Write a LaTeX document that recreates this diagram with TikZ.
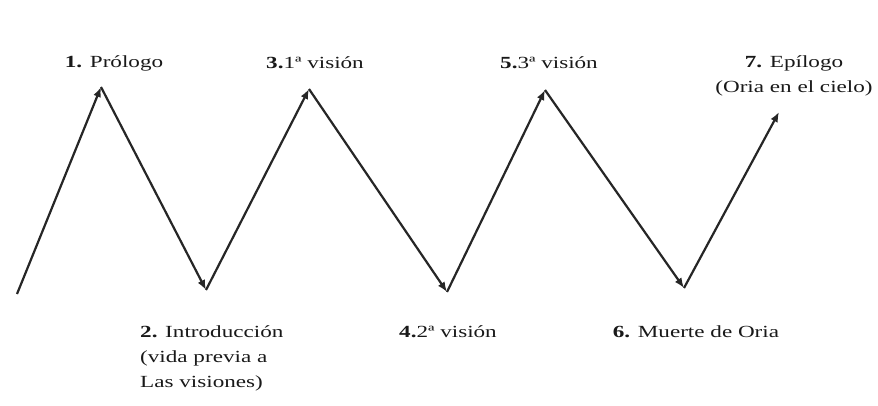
\documentclass[tikz,border=0pt]{standalone}
\usepackage{fontspec}
\setmainfont[FakeStretch=1.36]{Liberation Serif}
\usetikzlibrary{arrows.meta}
\begin{document}
\begin{tikzpicture}[x=1pt,y=-1pt,
  seg/.style={draw=black!85, line width=2.2pt, -{Latex[length=10pt,width=8pt]}},
  lbl/.style={font=\fontsize{17}{25}\selectfont, inner sep=0pt, text=black!90}]
\useasboundingbox[fill=white] (0,0) rectangle (878,406);
\coordinate (p0) at (17,294);
\coordinate (p1) at (101,87);
\coordinate (p2) at (206,290);
\coordinate (p3) at (309,89);
\coordinate (p4) at (447,292);
\coordinate (p5) at (545,90);
\coordinate (p6) at (684,288);
\coordinate (p7) at (779,112);
\draw[seg] (p0) -- (p1);
\draw[seg] (p1) -- (p2);
\draw[seg] (p2) -- (p3);
\draw[seg] (p3) -- (p4);
\draw[seg] (p4) -- (p5);
\draw[seg] (p5) -- (p6);
\draw[seg] (p6) -- (p7);
\node[lbl] (l1) at (114,63) {\textbf{1.} Prólogo};
\node[lbl] (l3) at (315,63) {\textbf{3.}1ª visión};
\node[lbl] (l5) at (549,63) {\textbf{5.}3ª visión};
\node[lbl, align=center] (l7) at (794,76) {\textbf{7.} Epílogo\\(Oria en el cielo)};
\node[lbl, align=left, anchor=west] (l2) at (140,358) {\textbf{2.} Introducción\\(vida previa a\\Las visiones)};
\node[lbl] (l4) at (448,332) {\textbf{4.}2ª visión};
\node[lbl] (l6) at (696,332) {\textbf{6.} Muerte de Oria};
\end{tikzpicture}
\end{document}
